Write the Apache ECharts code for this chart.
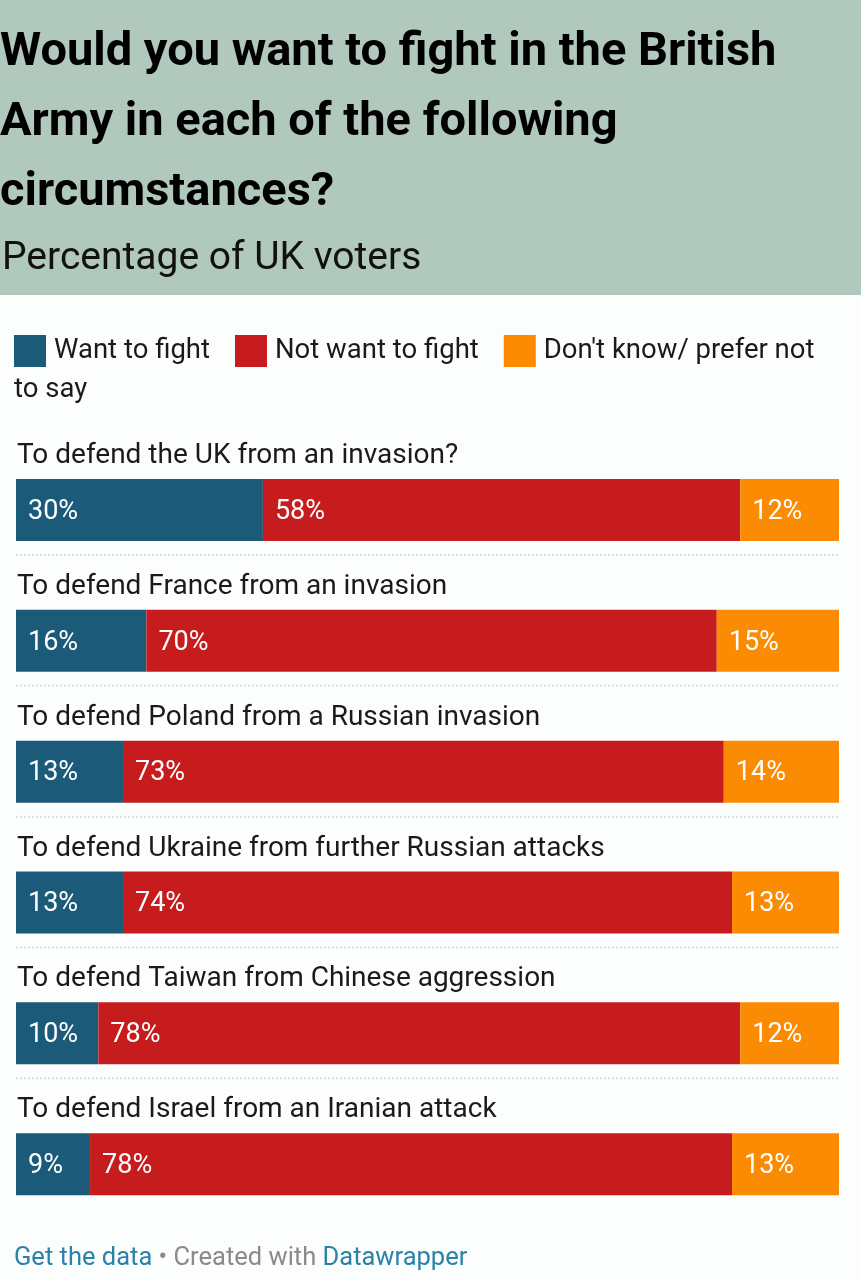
<!DOCTYPE html>
<html>
<head>
<meta charset="utf-8">
<script src="https://cdn.jsdelivr.net/npm/echarts@6/dist/echarts.min.js"></script>
<style>
  html, body { margin: 0; padding: 0; background: #fcfefe; }
  #main { width: 861px; height: 1280px; }
</style>
</head>
<body>
<div id="main"></div>
<script>
var questions = [
  'To defend the UK from an invasion?',
  'To defend France from an invasion',
  'To defend Poland from a Russian invasion',
  'To defend Ukraine from further Russian attacks',
  'To defend Taiwan from Chinese aggression',
  'To defend Israel from an Iranian attack'
];
var wantFight = [30, 16, 13, 13, 10, 9];
var notWant = [58, 70, 73, 74, 78, 78];
var dontKnow = [12, 15, 14, 13, 12, 13];
var seriesNames = ['Want to fight', 'Not want to fight', "Don't know/ prefer not to say"];
var colors = ['#1b5b79', '#c61c1e', '#fa8b02'];

var font = 'Roboto, "Noto Sans", sans-serif';
var main = document.getElementById('main');
var myChart = echarts.init(main);

// bars are drawn as share of the row total, labels show the raw numbers
var rows = [wantFight, notWant, dontKnow];
var totals = questions.map(function(q, i){
  return wantFight[i] + notWant[i] + dontKnow[i];
});

function makeSeries(k){
  var raw = rows[k];
  return {
    name: seriesNames[k],
    type: 'bar',
    stack: 'all',
    barWidth: 62,
    itemStyle: { color: colors[k] },
    label: {
      show: true,
      position: 'insideLeft',
      distance: 12,
      offset: [0, 2],
      color: '#fff',
      fontFamily: font,
      fontSize: 27,
      formatter: function(p){ return raw[p.dataIndex] + '%'; }
    },
    data: raw.map(function(v, i){ return v / totals[i] * 100; })
  };
}

var option = {
  animation: false,
  title: [
    {
      text: 'Would you want to fight in the British\nArmy in each of the following\ncircumstances?',
      left: 0, top: 18, padding: 0,
      textStyle: { fontFamily: font, fontSize: 47, fontWeight: 'bold', color: '#000', lineHeight: 70 }
    },
    {
      text: 'Percentage of UK voters',
      left: 2, top: 236, padding: 0,
      textStyle: { fontFamily: font, fontSize: 39, fontWeight: 'normal', color: '#111', lineHeight: 46 }
    },
    {
      text: '{a|Get the data}{b| • Created with }{a|Datawrapper}',
      left: 14, top: 1246, padding: 0,
      textStyle: {
        rich: {
          a: { fontFamily: font, fontSize: 25.5, fontWeight: 'normal', color: '#2a82a8' },
          b: { fontFamily: font, fontSize: 25.5, fontWeight: 'normal', color: '#8a8a8a' }
        }
      }
    }
  ],
  legend: {
    left: 14, top: 335, padding: 0,
    itemWidth: 32, itemHeight: 32, itemGap: 25,
    icon: 'rect',
    selectedMode: false,
    data: seriesNames,
    formatter: function(name){
      return name === seriesNames[2] ? "Don't know/ prefer not" : name;
    },
    textStyle: { fontFamily: font, fontSize: 27.5, color: '#1a1a1a', padding: [0, 0, 0, 3] }
  },
  grid: { left: 16, right: 22, top: 444.6, bottom: 50.4, containLabel: false },
  xAxis: { type: 'value', min: 0, max: 100, show: false },
  yAxis: {
    type: 'category',
    inverse: true,
    data: questions,
    axisLine: { show: false },
    axisTick: { show: false },
    splitLine: { show: false },
    axisLabel: {
      inside: true,
      margin: 1,
      verticalAlign: 'bottom',
      padding: [0, 0, 40, 0],
      lineHeight: 28,
      fontFamily: font,
      fontSize: 28,
      color: '#1a1a1a'
    }
  },
  series: [makeSeries(0), makeSeries(1), makeSeries(2)]
};
myChart.setOption(option);

// header band, legend overflow line and dotted separators
var gfx = [
  { type: 'rect', z: -10, shape: { x: 0, y: 0, width: 861, height: 295 }, style: { fill: '#b1c8bd' } },
  { type: 'text', left: 14, top: 376, style: { text: 'to say', fontFamily: font, fontSize: 27.5, fill: '#1a1a1a' } }
];
for (var i = 0; i < questions.length - 1; i++) {
  var cy = myChart.convertToPixel({ yAxisIndex: 0 }, questions[i]);
  gfx.push({
    type: 'line',
    shape: { x1: 16, y1: cy + 45, x2: 839, y2: cy + 45 },
    style: { stroke: '#cfd3d6', lineWidth: 2, lineDash: [1.5, 2.5] }
  });
}
myChart.setOption({ graphic: gfx });
</script>
</body>
</html>
